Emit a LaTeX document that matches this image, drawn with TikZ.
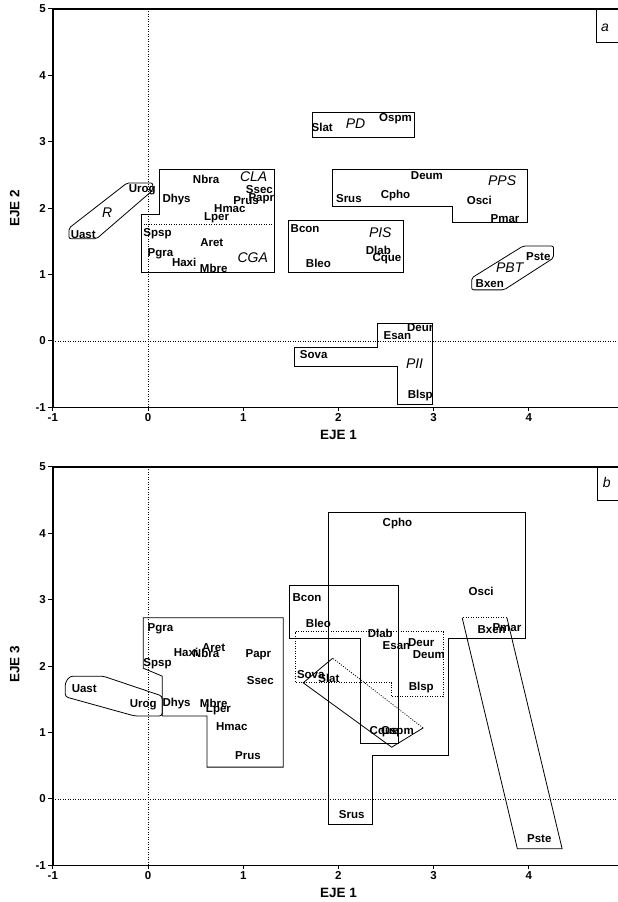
\documentclass[tikz,border=0pt]{standalone}
\usepackage{fontspec}
\setsansfont{Liberation Sans}
\tikzset{
  sp/.style={font=\sffamily\bfseries\fontsize{11.5}{13}\selectfont,inner sep=0pt,text height=8.2pt,text depth=0pt},
  grp/.style={font=\sffamily\itshape\fontsize{14}{16}\selectfont,inner sep=0pt,text height=10pt,text depth=0pt},
  ticklbl/.style={font=\sffamily\bfseries\fontsize{11.5}{13}\selectfont,inner sep=1.5pt},
  axlbl/.style={font=\sffamily\bfseries\fontsize{13.5}{15}\selectfont,inner sep=0pt},
  axisline/.style={line width=1.4pt},
  grpbox/.style={line width=0.8pt},
  grpdot/.style={line width=0.8pt,dash pattern=on 1pt off 1.5pt},
  refline/.style={line width=0.5pt,dash pattern=on 1pt off 1.5pt},
}
\begin{document}
\begin{tikzpicture}[x=1pt,y=1pt]
\useasboundingbox (0,0) rectangle (618,902);

% panel a: EJE 1 / EJE 2
\begin{scope}[shift={(148pt,561pt)},x=95.2pt,y=66.4pt]
\draw[refline] (0,-1) -- (0,5);
\draw[refline] (-1,0) -- (4.95,0);
\draw[axisline] (4.95,5) -- (-1,5) -- (-1,-1) -- (4.95,-1);
\foreach \y in {-1,0,1,2,3,4,5}
\draw[shift={(-1,\y)},line width=1pt] (0pt,0pt) -- (-5pt,0pt) node[left,ticklbl] (ay\y) {\y};
\foreach \x in {-1,0,1,2,3,4}
\draw[shift={(\x,-1)},line width=1pt] (0pt,0pt) -- (0pt,-4pt) node[below,ticklbl] (ax\x) {\x};
\node[axlbl] (aeje1) at (2,-1.41) {EJE 1};
\node[axlbl,rotate=90] (aeje2) at (-1.40,2.0) {EJE 2};
\draw[grpbox] (4.71,5) -- (4.71,4.49) -- (4.95,4.49);
\node[grp] (apanel) at (4.80,4.74) {a};
% groups
\draw[grpbox,rounded corners=2pt] (-0.83,1.70) -- (-0.22,2.38) -- (0.05,2.38) -- (0.05,2.27) -- (-0.54,1.54) -- (-0.83,1.54) -- cycle;
\draw[grpbox] (0.12,2.58) -- (1.33,2.58) -- (1.33,1.04) -- (-0.07,1.04) -- (-0.07,1.91) -- (0.12,1.91) -- cycle;
\draw[grpdot] (-0.07,1.76) -- (1.33,1.76);
\draw[grpbox] (1.73,3.07) rectangle (2.80,3.45);
\draw[grpbox] (1.94,2.59) -- (3.99,2.59) -- (3.99,1.79) -- (3.20,1.79) -- (3.20,2.02) -- (1.94,2.02) -- cycle;
\draw[grpbox] (1.47,1.04) rectangle (2.68,1.82);
\draw[grpbox,rounded corners=2pt] (3.40,0.95) -- (3.94,1.43) -- (4.26,1.43) -- (4.26,1.25) -- (3.74,0.77) -- (3.40,0.77) -- cycle;
\draw[grpbox] (2.41,0.27) -- (2.99,0.27) -- (2.99,-0.95) -- (2.62,-0.95) -- (2.62,-0.38) -- (1.54,-0.38) -- (1.54,-0.09) -- (2.41,-0.09) -- cycle;
\foreach \g/\x/\y in {R/-0.43/1.94, CLA/1.11/2.47, CGA/1.10/1.26, PD/2.18/3.28,
  PPS/3.72/2.41, PIS/2.44/1.63, PBT/3.80/1.10, PII/2.80/-0.34}
\node[grp] (a\g) at (\x,\y) {\g};
% species
\foreach \s/\x/\y in {Urog/-0.06/2.30, Nbra/0.61/2.44, Dhys/0.30/2.15, Ssec/1.17/2.29,
  Prus/1.03/2.12, Papr/1.19/2.16, Hmac/0.86/2.00, Lper/0.72/1.87, Uast/-0.68/1.61,
  Spsp/0.10/1.64, Pgra/0.13/1.34, Aret/0.67/1.48, Haxi/0.38/1.19, Mbre/0.69/1.10,
  Bcon/1.65/1.69, Bleo/1.79/1.17, Dlab/2.42/1.37, Cque/2.51/1.26, Slat/1.83/3.22,
  Ospm/2.60/3.36, Deum/2.93/2.50, Srus/2.11/2.15, Cpho/2.60/2.21, Osci/3.48/2.11,
  Pmar/3.75/1.85, Pste/4.10/1.28, Bxen/3.59/0.87, Deur/2.86/0.20, Esan/2.62/0.08,
  Sova/1.74/-0.20, Blsp/2.86/-0.80}
\node[sp] (a\s) at (\x,\y) {\s};
\end{scope}

% panel b: EJE 1 / EJE 3
\begin{scope}[shift={(148pt,103pt)},x=95.2pt,y=66.4pt]
\draw[refline] (0,-1) -- (0,5);
\draw[refline] (-1,0) -- (4.95,0);
\draw[axisline] (4.95,5) -- (-1,5) -- (-1,-1) -- (4.95,-1);
\foreach \y in {-1,0,1,2,3,4,5}
\draw[shift={(-1,\y)},line width=1pt] (0pt,0pt) -- (-5pt,0pt) node[left,ticklbl] (by\y) {\y};
\foreach \x in {-1,0,1,2,3,4}
\draw[shift={(\x,-1)},line width=1pt] (0pt,0pt) -- (0pt,-4pt) node[below,ticklbl] (bx\x) {\x};
\node[axlbl] (beje1) at (2,-1.41) {EJE 1};
\node[axlbl,rotate=90] (beje3) at (-1.40,2.03) {EJE 3};
\draw[grpbox] (4.72,5) -- (4.72,4.49) -- (4.95,4.49);
\node[grp] (bpanel) at (4.82,4.77) {b};
% groups
\draw[grpbox,rounded corners=3pt] (-0.87,1.75) -- (-0.82,1.85) -- (-0.47,1.85) -- (0.15,1.55) -- (0.15,1.25) -- (-0.14,1.25) -- (-0.87,1.54) -- cycle;
\draw[grpbox] (-0.05,2.73) -- (1.42,2.73) -- (1.42,0.48) -- (0.62,0.48) -- (0.62,1.25) -- (0.15,1.25) -- (0.15,1.85) -- (-0.05,1.97) -- cycle;
\draw[grpbox] (1.89,4.32) -- (3.96,4.32) -- (3.96,2.42) -- (3.16,2.42) -- (3.16,0.66) -- (2.36,0.66) -- (2.36,-0.38) -- (1.89,-0.38) -- cycle;
\draw[grpbox] (1.49,3.21) -- (2.63,3.21) -- (2.63,0.84) -- (2.23,0.84) -- (2.23,2.42) -- (1.49,2.42) -- cycle;
\draw[grpdot] (1.55,2.52) -- (3.10,2.52) -- (3.10,1.54) -- (2.56,1.54) -- (2.56,1.75) -- (1.55,1.75) -- cycle;
\draw[grpbox] (1.94,2.12) -- (1.63,1.75) -- (2.56,0.78) -- (2.89,1.07);
\draw[grpdot] (2.89,1.07) -- (1.94,2.12);
\draw[grpbox] (3.30,2.73) -- (3.88,-0.75) -- (4.35,-0.75) -- (3.77,2.73);
\draw[grpdot] (3.77,2.73) -- (3.30,2.73);
% species
\foreach \s/\x/\y in {Pgra/0.13/2.58, Haxi/0.40/2.21, Nbra/0.61/2.20, Aret/0.69/2.29,
  Papr/1.16/2.20, Spsp/0.10/2.05, Bcon/1.67/3.04, Bleo/1.79/2.65, Ssec/1.18/1.79,
  Uast/-0.67/1.67, Urog/-0.05/1.44, Dhys/0.30/1.46, Mbre/0.69/1.44, Lper/0.74/1.37,
  Hmac/0.88/1.10, Prus/1.05/0.65, Dlab/2.44/2.50, Esan/2.61/2.32, Deur/2.87/2.36,
  Deum/2.95/2.18, Sova/1.71/1.88, Slat/1.90/1.81, Blsp/2.87/1.69, Cque/2.48/1.04,
  Ospm/2.62/1.04, Cpho/2.62/4.17, Osci/3.50/3.13, Bxen/3.61/2.56, Pmar/3.77/2.59,
  Srus/2.14/-0.23, Pste/4.11/-0.60}
\node[sp] (b\s) at (\x,\y) {\s};
\end{scope}
\end{tikzpicture}
\end{document}
